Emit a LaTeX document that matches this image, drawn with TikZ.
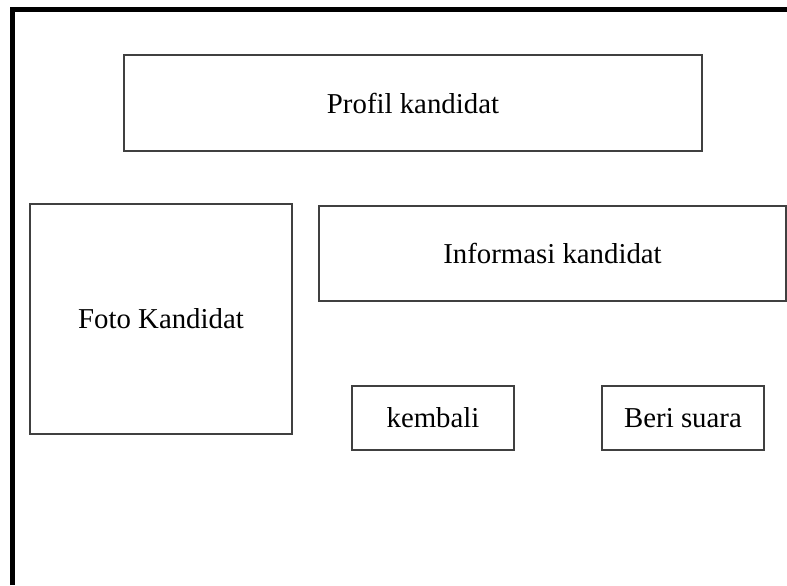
\documentclass[tikz,border=0pt]{standalone}
\usepackage{fontspec}
\setmainfont{Liberation Serif}
\begin{document}
\begin{tikzpicture}[x=0.02cm, y=-0.02cm, line join=miter, font=\fontsize{16.4}{19}\selectfont]
			\tikzset{kotak/.style={draw=black!75, line width=0.6pt, inner sep=0pt, minimum width=#1*0.02cm},
				kotak/.default=162}
			\useasboundingbox (0,0) rectangle (787,585);
			% bingkai layar
			\draw[line width=2.85pt] (12.5,585)--(12.5,9.5)--(787,9.5);
			\node[kotak=578, minimum height=96*0.02cm] (profil) at (413,103) {Profil kandidat};
			\node[kotak=262, minimum height=230*0.02cm] (foto) at (161,319) {Foto Kandidat};
			\node[kotak=467, minimum height=95*0.02cm] (info) at (552.5,253.5) {Informasi kandidat};
			\node[kotak, minimum height=64*0.02cm] (kembali) at (433,418) {kembali};
			\node[kotak, minimum height=64*0.02cm] (suara) at (683,418) {Beri suara};
	\end{tikzpicture}
\end{document}
